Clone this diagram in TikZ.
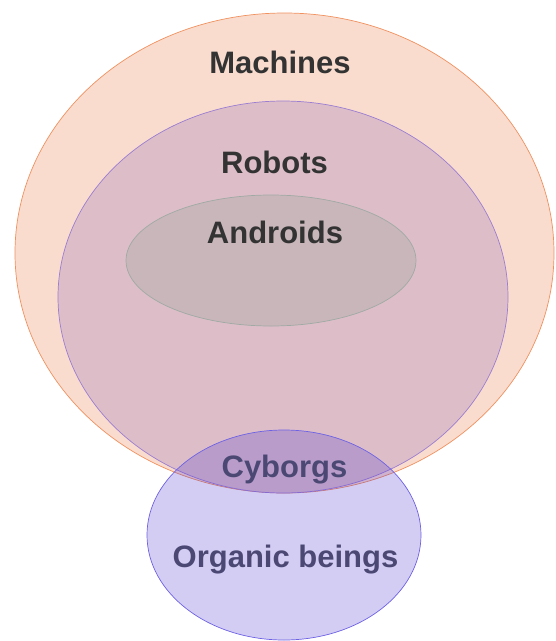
\documentclass[tikz,border=0pt]{standalone}
\usepackage{fontspec}
\setmainfont{Liberation Sans}
\usepackage{tikz}

\definecolor{machfill}{RGB}{249,220,206}
\definecolor{machline}{RGB}{240,145,95}
\definecolor{robfill}{RGB}{221,190,200}
\definecolor{robline}{RGB}{155,125,210}
\definecolor{andfill}{RGB}{200,182,186}
\definecolor{andline}{RGB}{160,170,165}
\definecolor{orgfill}{RGB}{79,55,211}
\definecolor{orgline}{RGB}{110,98,228}
\definecolor{darktext}{RGB}{51,51,51}
\definecolor{orgtext}{RGB}{75,72,116}

\begin{document}
\begin{tikzpicture}[x=1pt, y=-1pt,
    setlabel/.style={anchor=base, font=\bfseries\fontsize{31}{37}\selectfont, text=darktext, inner sep=0pt}]
    \useasboundingbox (0, 0) rectangle (556, 641);

    % The set of machines
    \draw[machline, line width=0.7pt, fill=machfill] (284.5, 253) ellipse (269.5 and 240);

    % Robots inside machines
    \draw[robline, line width=0.7pt, fill=robfill] (283, 297) ellipse (225 and 196);

    % Androids inside robots
    \draw[andline, line width=0.7pt, fill=andfill] (271, 260.5) ellipse (145 and 65.5);

    % Organic beings, overlapping at the bottom
    \draw[orgline, line width=0.7pt, fill=orgfill, fill opacity=0.25] (284, 535) ellipse (137 and 105);

    % Labels
    \node[setlabel] (machines) at (280, 73) {Machines};
    \node[setlabel] (robots) at (274.5, 173) {Robots};
    \node[setlabel] (androids) at (275, 243) {Androids};
    \node[setlabel, text=orgtext] (cyborgs) at (284.5, 477) {Cyborgs};
    \node[setlabel, text=orgtext] (organic) at (285.5, 567) {Organic beings};
\end{tikzpicture}
\end{document}
